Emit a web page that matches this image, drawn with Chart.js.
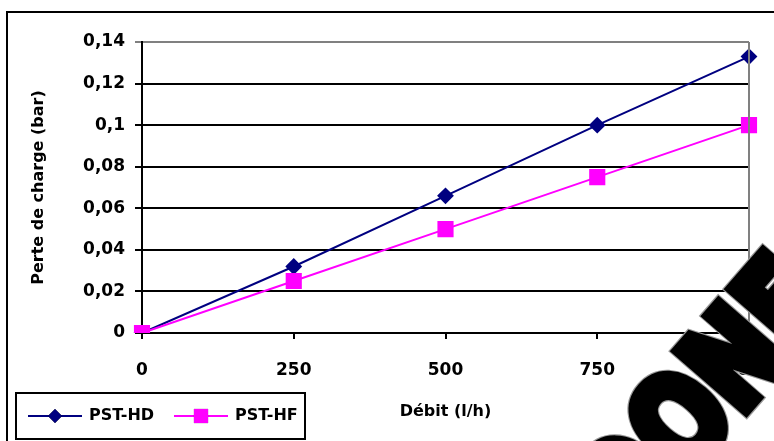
<!DOCTYPE html>
<html>
<head>
<meta charset="utf-8">
<script src="https://cdn.jsdelivr.net/npm/chart.js@4"></script>
<style>
  html, body { margin: 0; padding: 0; background: #fff; }
  #wrap { width: 774px; height: 441px; }
</style>
</head>
<body>
<div id="wrap"><canvas id="chart"></canvas></div>
<script>
// --- data ---
const debits = ['0', '250', '500', '750', '1000'];
const pstHD = [0, 0.032, 0.066, 0.1, 0.133];
const pstHF = [0, 0.025, 0.05, 0.075, 0.1];
const seriesNames = ['PST-HD', 'PST-HF'];
const yTitle = 'Perte de charge (bar)';
const xTitle = 'Débit (l/h)';
const watermark = 'DONE';

Chart.defaults.font.family = "'DejaVu Sans', sans-serif";
Chart.defaults.font.weight = 'bold';
Chart.defaults.color = '#000';

function frComma(v) {
    return String(+v.toFixed(2)).replace('.', ',');
}

// frame, grey plot border, hand drawn legend and the watermark
const decor = {
    id: 'decor',
    beforeDraw(chart) {
        const ctx = chart.ctx;
        ctx.save();
        ctx.fillStyle = '#fff';
        ctx.fillRect(0, 0, chart.width, chart.height);
        ctx.strokeStyle = '#000';
        ctx.lineWidth = 2;
        ctx.beginPath();
        ctx.moveTo(7, chart.height + 5);
        ctx.lineTo(7, 12);
        ctx.lineTo(chart.width + 5, 12);
        ctx.stroke();
        ctx.restore();
    },
    afterDraw(chart) {
        const ctx = chart.ctx;
        const a = chart.chartArea;
        ctx.save();
        // right border of plot area
        ctx.strokeStyle = '#808080';
        ctx.lineWidth = 2;
        ctx.beginPath();
        ctx.moveTo(a.right, a.top);
        ctx.lineTo(a.right, a.bottom);
        ctx.stroke();

        // legend box
        ctx.strokeStyle = '#000';
        ctx.lineWidth = 2;
        ctx.strokeRect(16, 393, 289, 46);
        const items = [
            { x: 28, textX: 89 },
            { x: 174, textX: 235 }
        ];
        ctx.font = "bold 16px 'DejaVu Sans'";
        ctx.textBaseline = 'middle';
        chart.data.datasets.forEach((ds, i) => {
            const it = items[i];
            const y = 416;
            ctx.strokeStyle = ds.borderColor;
            ctx.lineWidth = 2;
            ctx.beginPath();
            ctx.moveTo(it.x, y);
            ctx.lineTo(it.x + 54, y);
            ctx.stroke();
            Chart.helpers.drawPoint(ctx, {
                pointStyle: ds.pointStyle,
                radius: ds.pointRadius,
                borderWidth: 0
            }, it.x + 27, y);
            ctx.fillStyle = ds.pointBackgroundColor;
            ctx.fill();
            ctx.fillStyle = '#000';
            ctx.fillText(ds.label, it.textX, y);
        });

        // watermark (tall, heavy letters)
        ctx.translate(710, 402);
        ctx.rotate(-49 * Math.PI / 180);
        ctx.scale(1, 1.25);
        ctx.font = "bold 98px 'DejaVu Sans'";
        ctx.textAlign = 'center';
        ctx.textBaseline = 'middle';
        ctx.lineJoin = 'miter';
        ctx.strokeStyle = '#999';
        ctx.lineWidth = 12;
        ctx.strokeText(watermark, 0, 0);
        ctx.strokeStyle = '#000';
        ctx.lineWidth = 10;
        ctx.strokeText(watermark, 0, 0);
        ctx.fillStyle = '#000';
        ctx.fillText(watermark, 0, 0);
        ctx.restore();
    }
};

new Chart(document.getElementById('chart'), {
    type: 'line',
    data: {
        labels: debits,
        datasets: [
            {
                label: seriesNames[0],
                data: pstHD,
                borderColor: '#000080',
                backgroundColor: '#000080',
                pointBackgroundColor: '#000080',
                pointBorderColor: '#000080',
                pointStyle: 'rectRot',
                pointRadius: 7,
                borderWidth: 2,
                order: 1
            },
            {
                label: seriesNames[1],
                data: pstHF,
                borderColor: '#ff00ff',
                backgroundColor: '#ff00ff',
                pointBackgroundColor: '#ff00ff',
                pointBorderColor: '#ff00ff',
                pointStyle: 'rect',
                pointRadius: 10,
                borderWidth: 2,
                order: 0
            }
        ]
    },
    options: {
        responsive: true,
        maintainAspectRatio: false,
        animation: false,
        layout: { padding: { top: 42, right: 25, left: 0, bottom: 0 } },
        plugins: {
            legend: { display: false },
            tooltip: { enabled: false }
        },
        scales: {
            x: {
                offset: false,
                afterFit: (s) => {
                    s.height = 108;
                    s.paddingLeft = 0;
                    s.paddingRight = 0;
                },
                grid: {
                    drawOnChartArea: false,
                    drawTicks: true,
                    tickLength: 6,
                    color: '#000',
                    lineWidth: 2
                },
                border: { color: '#000', width: 2 },
                ticks: {
                    font: { size: 17, weight: 'bold' },
                    padding: 21,
                    maxRotation: 0,
                    autoSkip: false
                },
                title: {
                    display: true,
                    text: xTitle,
                    font: { size: 16, weight: 'bold' },
                    padding: { top: 0, bottom: 20 }
                }
            },
            y: {
                min: 0,
                max: 0.14,
                afterFit: (s) => {
                    s.width = 142;
                    s.paddingTop = 0;
                    s.paddingBottom = 0;
                },
                grid: {
                    color: (c) => (c.tick && c.tick.value >= 0.139 ? '#808080' : '#000'),
                    lineWidth: 2,
                    tickLength: 7
                },
                border: { color: '#000', width: 2 },
                ticks: {
                    stepSize: 0.02,
                    font: { size: 17, weight: 'bold' },
                    padding: 10,
                    callback: (v) => frComma(v)
                },
                title: {
                    display: true,
                    text: yTitle,
                    font: { size: 16, weight: 'bold' },
                    padding: { top: 29, bottom: 0 }
                }
            }
        }
    },
    plugins: [decor]
});
</script>
</body>
</html>
